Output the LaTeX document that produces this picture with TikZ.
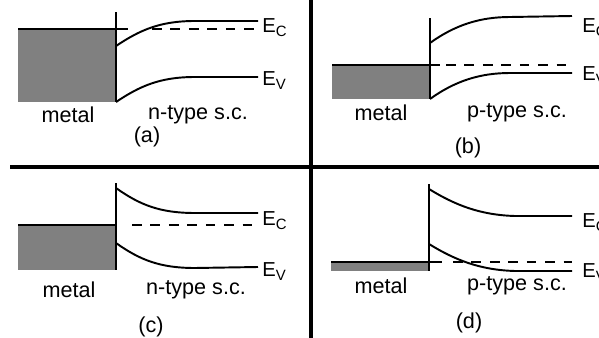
\documentclass[tikz,border=0pt]{standalone}
\usepackage{fontspec}
\setmainfont{Liberation Sans}
\usetikzlibrary{positioning}

\definecolor{metalgray}{RGB}{128,128,128}
\newcommand{\bandlab}[1]{E\raisebox{-2.3pt}{\fontsize{8.5}{9}\selectfont #1}}

\begin{document}
\begin{tikzpicture}[
    x=0.02cm, y=-0.02cm,
    band/.style={line width=1.1pt},
    fermi/.style={line width=1.1pt, dash pattern=on 5.5pt off 5pt},
    divider/.style={line width=1.8pt},
    lbl/.style={font=\fontsize{12.3}{14}\selectfont, inner sep=0pt},
    edgelab/.style={font=\fontsize{11.5}{12}\selectfont, anchor=base west, inner sep=0pt},
]
\useasboundingbox (0,0) rectangle (599,338);

% (a) metal / n-type, barrier
\fill[metalgray] (18,29) rectangle (116,102);
\draw[band] (18,29) -- (128,29);
\draw[band] (116,12) -- (116,102);
\draw[fermi] (152,29) -- (258,29);
\draw[band] (116,46) .. controls (140,30) and (160,21) .. (195,21) -- (258,21);
\draw[band] (116,102) .. controls (140,86) and (160,77) .. (195,77) -- (258,77);
\node[edgelab] (ec-a) at (262,32) {\bandlab{C}};
\node[edgelab] (ev-a) at (262,85) {\bandlab{V}};
\node[lbl] (metal-a) at (68,115) {metal};
\node[lbl] (sc-a) at (198,115) {n-type s.c.};
\node[lbl] (cap-a) at (147,137) {(a)};

% (b) metal / p-type, ohmic
\fill[metalgray] (332,65) rectangle (430,99);
\draw[band] (332,65) -- (440,65);
\draw[band] (430,18) -- (430,99);
\draw[fermi] (446,65) -- (572,65);
\draw[band] (430,43) .. controls (455,25) and (480,17) .. (510,17) -- (572,16);
\draw[band] (430,99) .. controls (455,81) and (480,73) .. (510,73) -- (572,73);
\node[edgelab] (ec-b) at (582,32) {\bandlab{C}};
\node[edgelab] (ev-b) at (582,80) {\bandlab{V}};
\node[lbl] (metal-b) at (381,113) {metal};
\node[lbl] (sc-b) at (517,113) {p-type s.c.};
\node[lbl] (cap-b) at (468,148) {(b)};

% (c) metal / n-type, ohmic
\fill[metalgray] (18,225) rectangle (116,270);
\draw[band] (18,225) -- (116,225);
\draw[band] (116,183) -- (116,270);
\draw[fermi] (132,225) -- (258,225);
\draw[band] (116,188) .. controls (140,205) and (160,213) .. (195,213) -- (258,213);
\draw[band] (116,243) .. controls (140,260) and (160,268) .. (195,268) -- (258,267);
\node[edgelab] (ec-c) at (262,225) {\bandlab{C}};
\node[edgelab] (ev-c) at (262,276) {\bandlab{V}};
\node[lbl] (metal-c) at (69,290) {metal};
\node[lbl] (sc-c) at (196,290) {n-type s.c.};
\node[lbl] (cap-c) at (151,327) {(c)};

% (d) metal / p-type, barrier
\fill[metalgray] (331,262) rectangle (429,271);
\draw[band] (331,262) -- (442,262);
\draw[band] (429,184) -- (429,271);
\draw[fermi] (453,262) -- (572,262);
\draw[band] (429,189) .. controls (455,205) and (480,215) .. (515,216) -- (572,216);
\draw[band] (429,244) .. controls (455,260) and (480,270) .. (515,271) -- (572,271);
\node[edgelab] (ec-d) at (582,227) {\bandlab{C}};
\node[edgelab] (ev-d) at (582,277) {\bandlab{V}};
\node[lbl] (metal-d) at (381,286) {metal};
\node[lbl] (sc-d) at (517,286) {p-type s.c.};
\node[lbl] (cap-d) at (469,323) {(d)};

% panel dividers
\draw[divider] (10,167) -- (599,167);
\draw[divider] (311,0) -- (311,338);
\end{tikzpicture}
\end{document}
